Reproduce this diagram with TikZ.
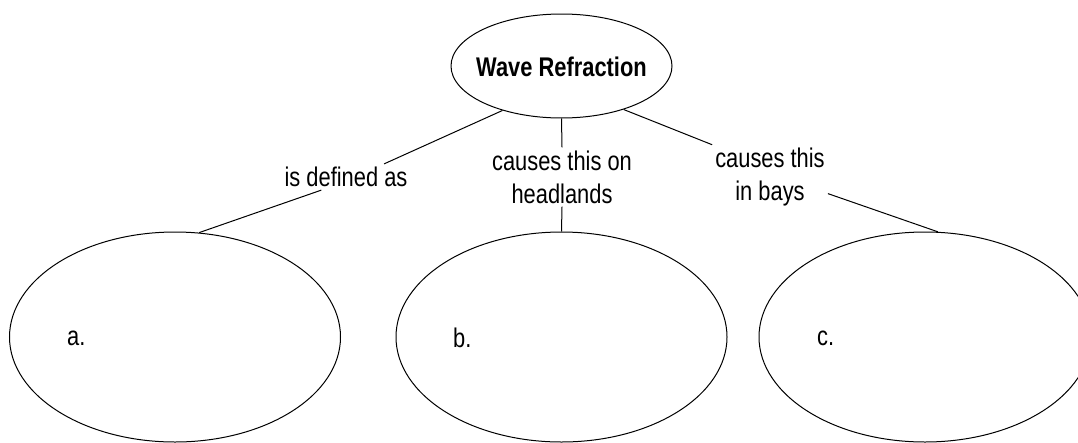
\documentclass[tikz,border=0pt]{standalone}
\usepackage{fontspec}
\setmainfont{Liberation Sans}[FakeStretch=0.81]
\usetikzlibrary{shapes.geometric}
\begin{document}
\begin{tikzpicture}[x=1pt,y=-1pt,
  bubble/.style={draw=black,line width=1pt,ellipse,inner sep=0pt},
  lbl/.style={font=\fontsize{27}{33}\selectfont,align=center,inner sep=3pt},
  tag/.style={font=\fontsize{27}{33}\selectfont,anchor=west,inner sep=0pt},
  link/.style={draw=black,line width=1pt}]
\useasboundingbox (0,0) rectangle (1078,442);
\node[bubble,minimum width=221pt,minimum height=104pt] (top) at (561.5,66) {};
\node[font=\bfseries\fontsize{27}{33}\selectfont,inner sep=0pt] (title) at (561.5,67) {Wave Refraction};
\node[bubble,minimum width=331pt,minimum height=210pt] (a) at (175,337) {};
\node[bubble,minimum width=331pt,minimum height=210pt] (b) at (561.5,337) {};
\node[bubble,minimum width=332pt,minimum height=210pt] (c) at (925,337) {};
\node[tag] (ta) at (67,338) {a.};
\node[tag] (tb) at (453,338) {b.};
\node[tag] (tc) at (817,338) {c.};
\node[lbl] (l1) at (346,177) {is defined as};
\node[lbl] (l2) at (562,177) {causes this on\\headlands};
\node[lbl] (l3) at (770,177) {causes this\\in bays};
\draw[link] (top.217.6) -- (l1.19);
\draw[link] (l1.208) -- (a.77);
\draw[link] (top.south) -- (l2.north);
\draw[link] (l2.south) -- (b.north);
\draw[link] (top.325) -- (l3.north west);
\draw[link] (l3.-16) -- (c.83.5);
\end{tikzpicture}
\end{document}
